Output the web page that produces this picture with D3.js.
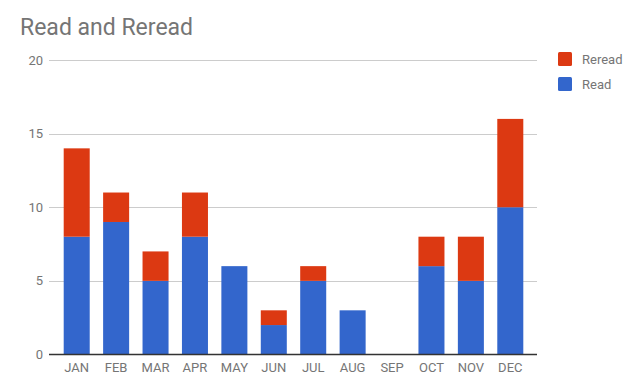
<!DOCTYPE html>
<html>
<head>
<meta charset="utf-8">
<script src="https://cdn.jsdelivr.net/npm/d3@7"></script>
<style>
  html, body { margin: 0; padding: 0; background: #fff; }
  svg { display: block; font-family: Roboto, "Noto Sans", sans-serif; }
</style>
</head>
<body>
<div id="viz"></div>
<script>
const W = 640;
const H = 392;

const months = ['JAN', 'FEB', 'MAR', 'APR', 'MAY', 'JUN', 'JUL', 'AUG', 'SEP', 'OCT', 'NOV', 'DEC'];
const read = [8, 9, 5, 8, 6, 2, 5, 3, 0, 6, 5, 10];
const reread = [6, 2, 2, 3, 0, 1, 1, 0, 0, 2, 3, 6];
const yTicks = [0, 5, 10, 15, 20];

const seriesNames = ['Read', 'Reread'];
const colors = { Read: '#3366cc', Reread: '#dc3912' };

const axisLeft = 49;
const axisRight = 537;

const svg = d3.select('#viz')
  .append('svg')
  .attr('width', W)
  .attr('height', H);

const x = d3.scaleBand()
  .domain(months)
  .range([57, 530])
  .paddingInner(0.34)
  .paddingOuter(0.17);

const y = d3.scaleLinear()
  .domain([0, 20])
  .range([354.5, 60]);

// title
svg.append('text')
  .attr('x', 20)
  .attr('y', 35)
  .attr('font-size', 23)
  .attr('fill', '#757575')
  .text('Read and Reread');

// gridlines + y labels
const grid = svg.append('g');
grid.selectAll('line')
  .data(yTicks.filter((t) => t > 0))
  .join('line')
  .attr('x1', axisLeft)
  .attr('x2', axisRight)
  .attr('y1', (d) => Math.round(y(d)) + 0.5)
  .attr('y2', (d) => Math.round(y(d)) + 0.5)
  .attr('stroke', '#cccccc')
  .attr('stroke-width', 1);

grid.selectAll('text')
  .data(yTicks)
  .join('text')
  .attr('x', 43)
  .attr('y', (d) => y(d))
  .attr('dy', '0.35em')
  .attr('text-anchor', 'end')
  .attr('font-size', 13)
  .attr('fill', '#757575')
  .text((d) => d);

// stacked bars
const rows = months.map((m, i) => ({ month: m, Read: read[i], Reread: reread[i] }));
const stacked = d3.stack().keys(seriesNames)(rows);

svg.append('g')
  .selectAll('g')
  .data(stacked)
  .join('g')
  .attr('fill', (s) => colors[s.key])
  .selectAll('rect')
  .data((s) => s.filter((d) => d[1] - d[0] > 0))
  .join('rect')
  .attr('x', (d) => x(d.data.month))
  .attr('width', x.bandwidth())
  .attr('y', (d) => y(d[1]))
  .attr('height', (d) => y(d[0]) - y(d[1]));

// baseline
svg.append('line')
  .attr('x1', axisLeft)
  .attr('x2', axisRight)
  .attr('y1', y(0))
  .attr('y2', y(0))
  .attr('stroke', '#333333')
  .attr('stroke-width', 1.3);

// month labels
svg.append('g')
  .selectAll('text')
  .data(months)
  .join('text')
  .attr('x', (d) => x(d) + x.bandwidth() / 2)
  .attr('y', 372)
  .attr('text-anchor', 'middle')
  .attr('font-size', 13)
  .attr('fill', '#757575')
  .text((d) => d);

// legend (Reread on top)
const legend = svg.append('g')
  .selectAll('g')
  .data(['Reread', 'Read'])
  .join('g')
  .attr('transform', (d, i) => `translate(558,${52 + i * 25})`);

legend.append('rect')
  .attr('width', 14)
  .attr('height', 14)
  .attr('rx', 1.5)
  .attr('fill', (d) => colors[d]);

legend.append('text')
  .attr('x', 24)
  .attr('y', 7)
  .attr('dy', '0.35em')
  .attr('font-size', 13)
  .attr('fill', '#757575')
  .text((d) => d);
</script>
</body>
</html>
